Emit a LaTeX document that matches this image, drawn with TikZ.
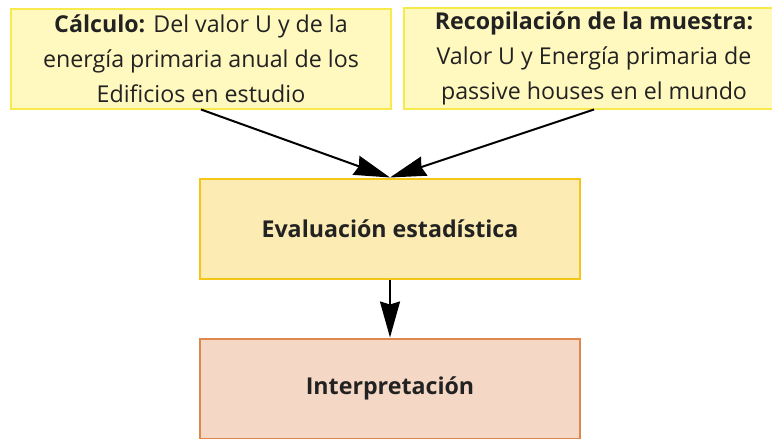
\documentclass[tikz,border=0pt]{standalone}
\usepackage{fontspec}
\setmainfont{Open Sans}
\usetikzlibrary{positioning,arrows.meta}

\definecolor{topfill}{HTML}{FFF8BF}
\definecolor{topline}{HTML}{F8EA4C}
\definecolor{evalfill}{HTML}{FCEBB2}
\definecolor{evalline}{HTML}{F5C518}
\definecolor{interpfill}{HTML}{F4D7C4}
\definecolor{interpline}{HTML}{E0874E}
\definecolor{txt}{HTML}{222222}

\begin{document}
\begin{tikzpicture}[x=1pt,y=-1pt,
    box/.style={draw,line width=2pt,minimum width=380pt,minimum height=100pt,
      align=center,text=txt,font=\fontsize{23.2}{35}\selectfont},
    topbox/.style={box,fill=topfill,draw=topline},
    evalbox/.style={box,fill=evalfill,draw=evalline,font=\fontsize{23.2}{35}\selectfont\bfseries},
    interpbox/.style={box,fill=interpfill,draw=interpline,font=\fontsize{23.2}{35}\selectfont\bfseries},
    arr/.style={line width=2pt,-{Stealth[length=36pt,width=20pt,inset=3pt]}}]
  \useasboundingbox (0,0) rectangle (772,439);
  \clip (0,0) rectangle (772,439);
  \node[topbox] (calc) at (201,58.5)
    {\textbf{Cálculo:} Del valor U y de la\\energía primaria anual de los\\Edificios en estudio};
  \node[topbox] (muestra) at (594,58.5)
    {\textbf{Recopilación de la muestra:}\\Valor U y Energía primaria de\\passive houses en el mundo};
  \node[evalbox] (eval) at (390,228.5) {Evaluación estadística};
  \node[interpbox,below=58pt of eval] (interp) {Interpretación};
  %
  \draw[arr] (calc.south) -- (eval.north);
  \draw[arr] (muestra.south) -- (eval.north);
  \draw[arr] (eval.south) -- (interp.north);
\end{tikzpicture}
\end{document}
